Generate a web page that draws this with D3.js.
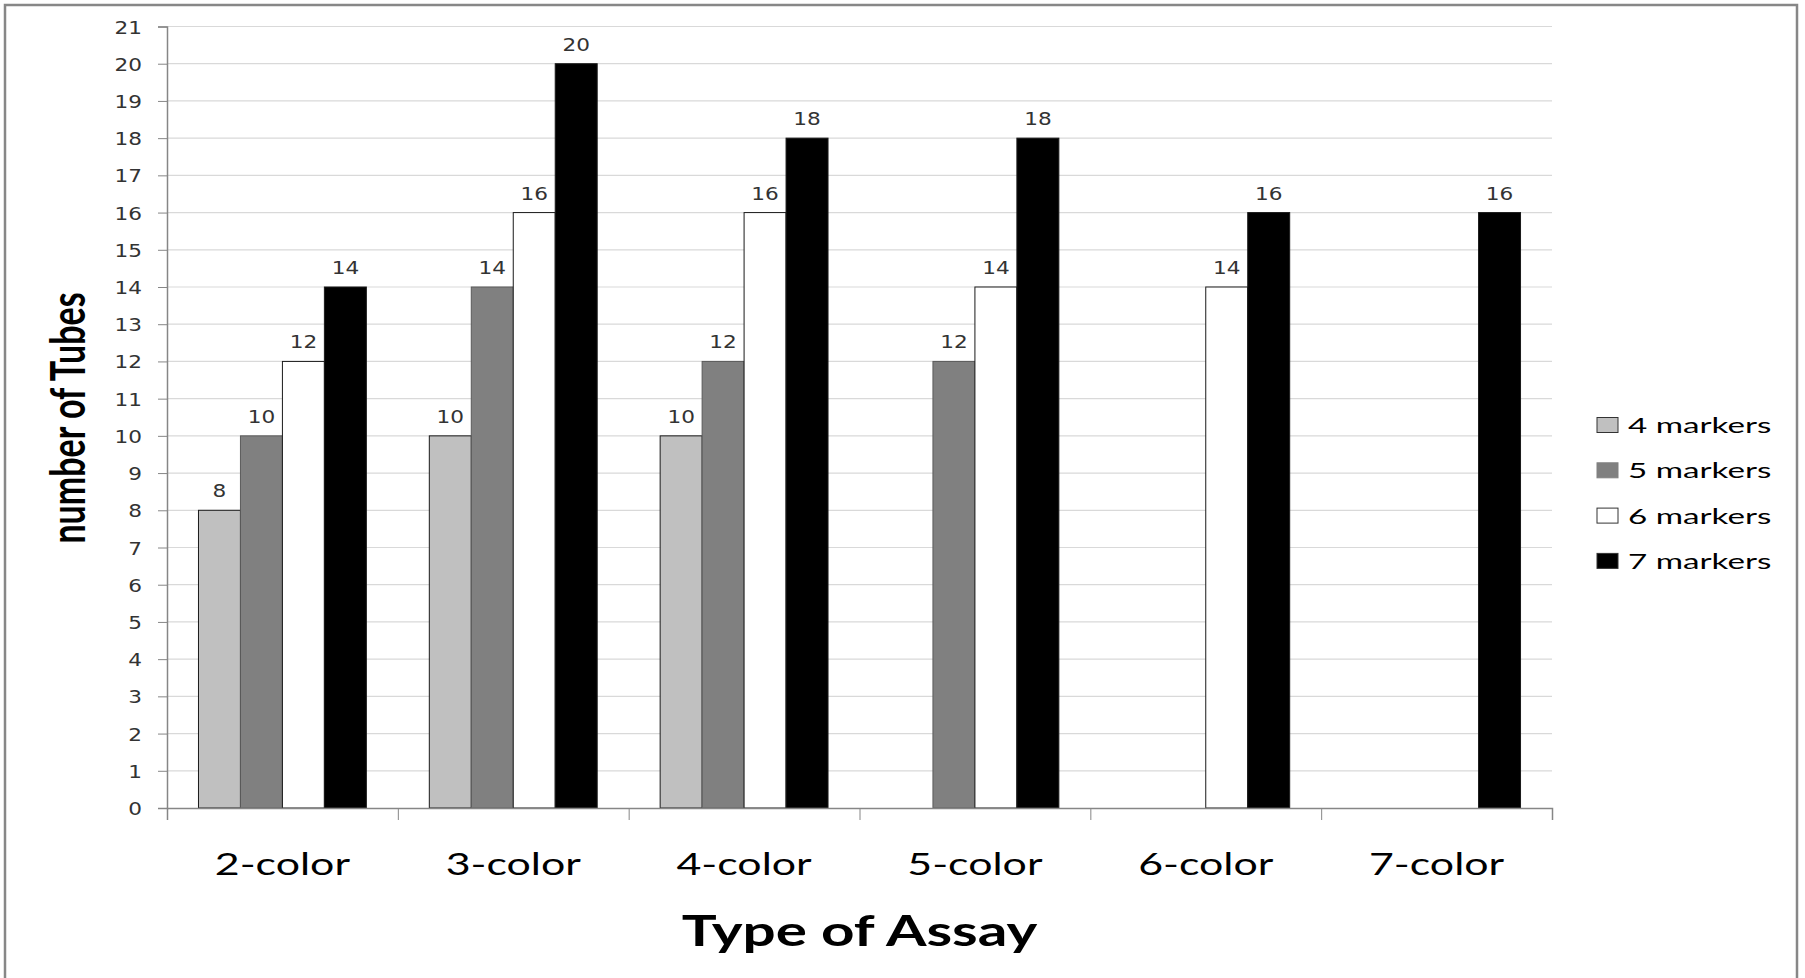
<!DOCTYPE html>
<html>
<head>
<meta charset="utf-8">
<script src="https://cdn.jsdelivr.net/npm/d3@7"></script>
<style>
  body { margin: 0; background: #fff; }
  svg { display: block; }
</style>
</head>
<body>
<svg id="chart"></svg>
<script>
// data
const categories = ['2-color', '3-color', '4-color', '5-color', '6-color', '7-color'];
const seriesNames = ['4 markers', '5 markers', '6 markers', '7 markers'];
const markers4 = [8, 10, 10, null, null, null];
const markers5 = [10, 14, 12, 12, null, null];
const markers6 = [12, 16, 16, 14, 14, null];
const markers7 = [14, 20, 18, 18, 16, 16];
const yTickValues = [0, 1, 2, 3, 4, 5, 6, 7, 8, 9, 10, 11, 12, 13, 14, 15, 16, 17, 18, 19, 20, 21];

const seriesValues = [markers4, markers5, markers6, markers7];

// dimensions
const width = 1805;
const height = 978;
const plotLeft = 167, plotRight = 1552, plotTop = 26.5, plotBottom = 808;
const stretch = 1.4;   // the source picture is stretched sideways

const svg = d3.select('#chart')
  .attr('width', width)
  .attr('height', height);

// outer frame
svg.append('rect')
  .attr('x', 5).attr('y', 5)
  .attr('width', 1792).attr('height', 990)
  .attr('fill', '#fff')
  .attr('stroke', '#878787')
  .attr('stroke-width', 2.5);

// scales
const x0 = d3.scaleBand()
  .domain(categories)
  .range([plotLeft, plotRight]);

const x1 = d3.scaleBand()
  .domain(seriesNames)
  .range([0, x0.bandwidth()])
  .paddingInner(0)
  .paddingOuter(0.75);

const y = d3.scaleLinear()
  .domain([0, 21])
  .range([plotBottom, plotTop]);

const color = d3.scaleOrdinal()
  .domain(seriesNames)
  .range(['#c0c0c0', '#808080', '#ffffff', '#000000']);

// gridlines
svg.append('g')
  .selectAll('line')
  .data(yTickValues.filter(d => d > 0))
  .enter()
  .append('line')
  .attr('x1', plotLeft).attr('x2', plotRight)
  .attr('y1', d => y(d)).attr('y2', d => y(d))
  .attr('stroke', '#d9d9d9')
  .attr('stroke-width', 1.2);

// bars
const rows = [];
categories.forEach((c, i) => {
  seriesNames.forEach((s, j) => {
    const v = seriesValues[j][i];
    if (v != null) rows.push({cat: c, series: s, value: v});
  });
});

svg.append('g')
  .selectAll('rect')
  .data(rows)
  .enter()
  .append('rect')
  .attr('x', d => x0(d.cat) + x1(d.series))
  .attr('y', d => y(d.value))
  .attr('width', x1.bandwidth())
  .attr('height', d => plotBottom - y(d.value))
  .attr('fill', d => color(d.series))
  .attr('stroke', d => d.series === '5 markers' ? '#5a5a5a' : '#1a1a1a')
  .attr('stroke-width', 1);

// value labels
svg.append('g')
  .selectAll('text')
  .data(rows)
  .enter()
  .append('text')
  .attr('transform', d => `translate(${x0(d.cat) + x1(d.series) + x1.bandwidth() / 2}, ${y(d.value) - 13}) scale(1.2, 1)`)
  .attr('text-anchor', 'middle')
  .style('font-family', 'DejaVu Sans')
  .style('font-size', '18px')
  .style('fill', '#333')
  .text(d => d.value);

// y axis
const yAxis = d3.axisLeft(y)
  .tickValues(yTickValues)
  .tickSize(9)
  .tickFormat(d3.format('d'));

const gy = svg.append('g')
  .attr('transform', `translate(${plotLeft}, 0)`)
  .call(yAxis);
gy.select('.domain').attr('stroke', '#868686').attr('stroke-width', 1.5);
gy.selectAll('.tick line').attr('stroke', '#868686');
gy.selectAll('.tick text')
  .attr('x', null)
  .attr('dy', null)
  .attr('transform', 'translate(-25, 6.5) scale(1.2, 1)')
  .style('font-family', 'DejaVu Sans')
  .style('font-size', '18px')
  .style('fill', '#333');

// x axis
const xAxis = d3.axisBottom(d3.scaleLinear().domain([0, categories.length]).range([plotLeft, plotRight]))
  .ticks(categories.length)
  .tickSize(12)
  .tickFormat('');

const gx = svg.append('g')
  .attr('transform', `translate(0, ${plotBottom})`)
  .call(xAxis);
gx.select('.domain').attr('stroke', '#868686').attr('stroke-width', 1.5);
gx.selectAll('.tick line').attr('stroke', '#868686');

// category labels
svg.append('g')
  .selectAll('text')
  .data(categories)
  .enter()
  .append('text')
  .attr('transform', d => `translate(${x0(d) + x0.bandwidth() / 2}, 875) scale(1.43, 1)`)
  .attr('text-anchor', 'middle')
  .style('font-family', 'Lato')
  .style('font-size', '30px')
  .style('fill', '#000')
  .text(d => d);

// axis titles
svg.append('text')
  .attr('transform', `translate(${(plotLeft + plotRight) / 2}, 946) scale(1.39, 1)`)
  .attr('text-anchor', 'middle')
  .style('font-family', 'Lato')
  .style('font-weight', 'bold')
  .style('font-size', '42px')
  .text('Type of Assay');

svg.append('text')
  .attr('transform', `translate(85, 418) scale(${stretch}, 1) rotate(-90)`)
  .attr('text-anchor', 'middle')
  .style('font-family', 'Lato')
  .style('font-weight', 'bold')
  .style('font-size', '34px')
  .text('number of Tubes');

// legend
const legend = svg.append('g')
  .selectAll('g')
  .data(seriesNames)
  .enter()
  .append('g')
  .attr('transform', (d, i) => `translate(1597, ${425 + i * 45.3})`);

legend.append('rect')
  .attr('x', 0).attr('y', -7.5)
  .attr('width', 21).attr('height', 15)
  .attr('fill', d => color(d))
  .attr('stroke', d => d === '5 markers' ? '#808080' : '#333')
  .attr('stroke-width', 1);

legend.append('text')
  .attr('transform', 'translate(31, 8) scale(1.58, 1)')
  .style('font-family', 'Lato')
  .style('font-size', '21px')
  .style('fill', '#000')
  .text(d => d);
</script>
</body>
</html>
